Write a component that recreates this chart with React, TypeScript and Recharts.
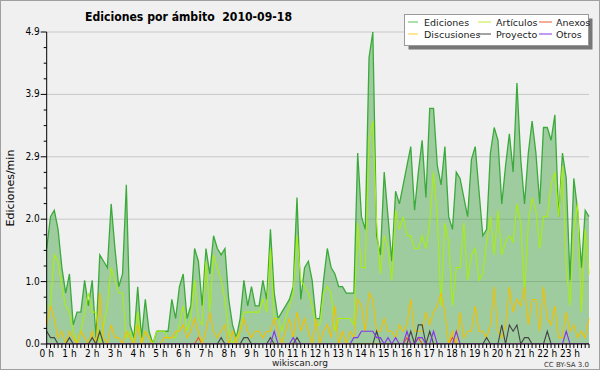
import { ComposedChart, Area, Line, XAxis, YAxis, CartesianGrid } from "recharts";

// 10-minute slots of the day, 0 = 00:00 ... 143 = 23:50
const slots = Array.from({ length: 144 }, (_, i) => i);

const ediciones = [
  1.5, 2.0, 2.1, 1.8, 1.2, 0.8, 1.1, 0.3, 0.5, 0.5, 1.0, 0.6,
  1.0, 0.1, 1.4, 1.3, 1.2, 2.2, 1.5, 0.9, 1.1, 2.5, 0.3, 0.1,
  0.9, 0.1, 0.7, 0.2, 0.0, 0.2, 0.2, 0.2, 0.2, 0.7, 0.4, 0.9,
  1.1, 0.4, 0.6, 1.5, 1.3, 0.6, 1.5, 1.1, 1.7, 1.5, 1.4, 1.5,
  0.7, 0.3, 0.1, 0.4, 1.0, 0.6, 0.9, 0.6, 0.6, 1.0, 0.7, 1.8,
  0.8, 0.4, 0.5, 0.6, 0.7, 0.9, 2.3, 0.7, 1.2, 1.3, 1.0, 0.4,
  0.4, 1.0, 1.5, 1.2, 1.1, 0.9, 0.9, 0.8, 0.8, 0.8, 3.0, 2.0,
  1.8, 4.5, 4.9, 1.7, 1.4, 2.7, 2.0, 1.3, 2.4, 2.2, 2.5, 2.8,
  3.1, 2.1, 2.7, 3.2, 2.3, 3.7, 3.7, 2.8, 2.5, 3.1, 2.0, 1.8,
  2.7, 2.6, 2.3, 2.0, 2.9, 3.1, 2.4, 1.7, 1.8, 3.0, 3.4, 3.2,
  2.2, 2.8, 3.3, 2.7, 4.1, 2.9, 2.2, 3.0, 3.5, 3.0, 2.2, 3.4,
  3.4, 3.2, 3.6, 2.0, 3.0, 2.6, 1.0, 2.6, 2.1, 1.2, 2.1, 2.0,
];

const articulos = [
  0.6, 0.6, 1.4, 1.3, 0.9, 0.6, 0.5, 0.2, 0.0, 0.2, 0.5, 0.8,
  0.5, 0.5, 0.0, 0.3, 0.6, 1.2, 1.0, 0.8, 0.8, 0.1, 0.2, 0.0,
  0.5, 0.0, 0.2, 0.1, 0.0, 0.2, 0.2, 0.2, 0.1, 0.1, 0.1, 0.3,
  0.6, 0.2, 0.4, 1.0, 0.4, 0.3, 1.3, 0.5, 1.4, 1.2, 1.0, 0.7,
  0.2, 0.0, 0.1, 0.2, 0.5, 0.5, 0.5, 0.5, 0.5, 0.7, 0.5, 1.5,
  0.4, 0.4, 0.2, 0.4, 0.6, 0.8, 1.7, 1.0, 0.9, 0.8, 0.6, 0.3,
  0.3, 0.8, 0.9, 0.8, 0.2, 0.4, 0.4, 0.4, 0.4, 0.3, 1.9, 1.2,
  1.2, 3.2, 3.5, 1.9, 1.1, 1.7, 1.5, 1.0, 2.1, 1.8, 2.0, 1.7,
  1.7, 1.5, 1.5, 1.7, 1.5, 1.9, 2.7, 2.0, 0.6, 1.9, 1.6, 0.6,
  1.2, 1.2, 1.9, 1.0, 1.4, 1.5, 1.0, 1.1, 1.6, 2.0, 1.4, 2.1,
  1.4, 1.6, 1.7, 1.6, 2.2, 1.9, 0.8, 1.9, 2.3, 2.1, 1.5, 2.0,
  2.0, 2.5, 2.7, 2.0, 2.8, 1.2, 0.6, 1.8, 2.2, 0.5, 1.8, 1.1,
];

const anexos = [
  0, 0, 0, 0, 0, 0, 0, 0, 0, 0, 0, 0,
  0, 0, 0, 0, 0, 0, 0, 0, 0, 0, 0, 0,
  0, 0, 0, 0, 0, 0, 0, 0, 0, 0, 0, 0,
  0, 0, 0, 0, 0.1, 0, 0, 0, 0, 0, 0, 0,
  0, 0, 0, 0, 0, 0, 0, 0, 0, 0, 0, 0,
  0, 0, 0, 0, 0, 0, 0, 0, 0, 0, 0, 0,
  0, 0, 0, 0, 0, 0, 0, 0, 0, 0, 0, 0,
  0, 0, 0, 0, 0, 0, 0, 0, 0, 0, 0, 0.1,
  0, 0, 0.1, 0, 0, 0, 0, 0, 0, 0, 0, 0.1,
  0, 0, 0, 0, 0, 0, 0, 0, 0, 0, 0, 0,
  0, 0, 0, 0, 0, 0, 0, 0, 0, 0, 0, 0,
  0, 0, 0, 0, 0, 0, 0, 0, 0, 0, 0, 0,
];

const discusiones = [
  0.3, 0.6, 0.4, 0.1, 0.2, 0.0, 0.2, 0.1, 0.0, 0.2, 0.1, 0.0,
  0.2, 0.0, 0.8, 0.1, 0.0, 0.3, 0.1, 0.1, 0.0, 0.2, 0.1, 0.0,
  0.3, 0.0, 0.2, 0.1, 0.0, 0.0, 0.0, 0.1, 0.1, 0.1, 0.2, 0.2,
  0.3, 0.1, 0.2, 0.4, 0.2, 0.0, 0.2, 0.5, 0.2, 0.1, 0.2, 0.3,
  0.0, 0.2, 0.0, 0.2, 0.4, 0.2, 0.1, 0.2, 0.2, 0.1, 0.2, 0.2,
  0.4, 0.2, 0.0, 0.2, 0.4, 0.1, 0.5, 0.2, 0.4, 0.2, 0.0, 0.4,
  0.0, 0.2, 0.3, 0.1, 0.6, 0.0, 0.2, 0.0, 0.2, 0.1, 0.7, 0.6,
  0.2, 0.8, 0.7, 0.2, 0.2, 0.4, 0.2, 0.2, 0.1, 0.3, 0.2, 0.3,
  0.7, 0.2, 0.2, 0.2, 0.5, 0.3, 0.5, 0.6, 0.8, 0.5, 0.0, 0.2,
  0.0, 0.5, 0.1, 0.2, 0.2, 0.6, 0.2, 0.2, 0.1, 0.3, 0.9, 0.2,
  0.1, 0.3, 0.9, 0.5, 0.7, 0.6, 0.9, 0.3, 0.7, 0.7, 0.2, 0.9,
  0.4, 0.3, 0.6, 0.1, 0.1, 0.5, 0.2, 0.3, 0.1, 0.2, 0.1, 0.4,
];

const proyecto = [
  0.2, 0.1, 0.1, 0, 0, 0, 0.1, 0, 0, 0, 0, 0,
  0.1, 0, 0.2, 0, 0, 0, 0, 0, 0, 0, 0, 0,
  0, 0, 0, 0, 0, 0, 0, 0, 0, 0, 0, 0,
  0, 0, 0, 0, 0, 0, 0, 0, 0, 0, 0.1, 0,
  0, 0, 0, 0, 0.1, 0.1, 0, 0, 0, 0, 0, 0.1,
  0, 0, 0, 0, 0, 0, 0.1, 0, 0, 0, 0, 0,
  0, 0, 0, 0, 0, 0, 0, 0, 0, 0, 0, 0,
  0, 0, 0, 0.2, 0, 0, 0, 0, 0, 0, 0, 0,
  0.2, 0, 0.3, 0.3, 0, 0.2, 0, 0, 0, 0, 0, 0,
  0, 0, 0, 0, 0, 0, 0, 0, 0.1, 0, 0, 0,
  0.3, 0, 0.3, 0.2, 0.3, 0, 0.1, 0.1, 0, 0, 0, 0,
  0.2, 0, 0, 0, 0, 0, 0, 0, 0, 0, 0, 0,
];

const otros = [
  0, 0, 0, 0, 0, 0, 0, 0, 0, 0, 0, 0,
  0, 0, 0, 0, 0, 0, 0, 0, 0, 0, 0, 0,
  0, 0, 0, 0, 0, 0, 0, 0, 0, 0, 0, 0,
  0, 0, 0, 0, 0, 0, 0, 0, 0, 0, 0, 0,
  0, 0, 0, 0, 0, 0, 0, 0, 0, 0, 0, 0,
  0.2, 0, 0, 0, 0, 0.1, 0, 0, 0, 0, 0, 0,
  0, 0, 0, 0, 0, 0, 0, 0, 0, 0.1, 0.1, 0.2,
  0.2, 0.2, 0.2, 0.1, 0.1, 0, 0.1, 0, 0.1, 0, 0, 0.2,
  0, 0, 0.1, 0.1, 0, 0, 0.2, 0, 0, 0, 0, 0,
  0.2, 0, 0, 0, 0, 0, 0, 0, 0, 0, 0, 0,
  0, 0, 0, 0, 0, 0, 0, 0, 0, 0, 0, 0,
  0, 0, 0, 0, 0, 0.2, 0, 0, 0, 0, 0, 0,
];

const yMajor = [0, 0.98, 1.96, 2.94, 3.92, 4.9];
const yMajorLabels = ["0.0", "1.0", "2.0", "2.9", "3.9", "4.9"];

const series = [
  { key: "ediciones", name: "Ediciones", color: "#3aaa3a", legend: "#77cc77" },
  { key: "articulos", name: "Artículos", color: "#aaee11", legend: "#ccee55" },
  { key: "anexos", name: "Anexos", color: "#ee5522", legend: "#ee7755" },
  { key: "discusiones", name: "Discusiones", color: "#f2c000", legend: "#ffd84d" },
  { key: "proyecto", name: "Proyecto", color: "#444444", legend: "#666666" },
  { key: "otros", name: "Otros", color: "#8833ee", legend: "#9955ee" },
];

const data = slots.map((s, i) => ({
  s,
  ediciones: ediciones[i],
  articulos: articulos[i],
  anexos: anexos[i],
  discusiones: discusiones[i],
  proyecto: proyecto[i],
  otros: otros[i],
}));

// minor ticks every quarter of a major step
const yTicks = Array.from({ length: 21 }, (_, k) => +(k * 0.245).toFixed(3));

const narrow = "'Liberation Sans Narrow', 'DejaVu Sans Condensed', sans-serif";
const sans = "'DejaVu Sans', sans-serif";

function XTick({ x, y, payload }: any) {
  const v = payload.value as number;
  const hour = v % 6 === 0;
  return (
    <g>
      <line x1={x} y1={y} x2={x} y2={y + 4} stroke="#000" />
      {hour && (
        <text x={x} y={y + 13} textAnchor="middle" fontSize={10} fontFamily={narrow} fill="#000">
          {`${v / 6} h`}
        </text>
      )}
    </g>
  );
}

function YTick({ x, y, payload }: any) {
  const v = payload.value as number;
  const idx = yMajor.findIndex((m) => Math.abs(m - v) < 0.002);
  const major = idx >= 0;
  return (
    <g>
      <line x1={x - (major ? 6 : 3)} y1={y} x2={x} y2={y} stroke="#000" />
      {major && (
        <text x={x - 7} y={y + 3} textAnchor="end" fontSize={10} fontFamily={narrow} fill="#000">
          {yMajorLabels[idx]}
        </text>
      )}
    </g>
  );
}

export default function App() {
  // legend order: Ediciones Artículos Anexos / Discusiones Proyecto Otros
  const legendRows = [
    [series[0], series[1], series[2]],
    [series[3], series[4], series[5]],
  ];
  const colX = [408, 478, 539];
  const textX = [424, 496, 556];
  const rowY = [22, 34];

  return (
    <div
      style={{
        position: "absolute",
        left: 0,
        top: 0,
        width: 600,
        height: 370,
        background: "#f0f0f0",
        boxSizing: "border-box",
        border: "1px solid #a0a0a0",
        overflow: "hidden",
      }}
    >
      <div style={{ position: "absolute", left: -1, top: -1 }}>
        <ComposedChart
          width={600}
          height={370}
          data={data}
          margin={{ top: 32, right: 11, left: 6, bottom: 0 }}
        >
          <CartesianGrid vertical={false} horizontalValues={yMajor} stroke="#c8c8c8" />
          <XAxis
            dataKey="s"
            type="number"
            domain={[0, 143]}
            ticks={slots}
            interval={0}
            height={26}
            tickSize={0}
            tickMargin={0}
            tickLine={false}
            axisLine={{ stroke: "#000" }}
            tick={<XTick />}
          />
          <YAxis
            type="number"
            domain={[0, 4.9]}
            ticks={yTicks}
            interval={0}
            width={40.7}
            tickSize={0}
            tickMargin={0}
            tickLine={false}
            axisLine={{ stroke: "#000" }}
            tick={<YTick />}
            allowDataOverflow
          />
          <Area
            type="linear"
            dataKey="ediciones"
            stroke="#3aaa3a"
            strokeWidth={1.3}
            fill="#2e9a2e"
            fillOpacity={0.42}
            isAnimationActive={false}
            dot={false}
            activeDot={false}
          />
          {series.slice(1).map((s) => (
            <Line
              key={s.key}
              type="linear"
              dataKey={s.key}
              stroke={s.color}
              strokeWidth={1.1}
              dot={false}
              activeDot={false}
              isAnimationActive={false}
            />
          ))}
        </ComposedChart>
      </div>
      <svg
        width={600}
        height={370}
        style={{ position: "absolute", left: -1, top: -1, pointerEvents: "none" }}
      >
        <text
          x={85}
          y={21}
          fontSize={13}
          fontWeight="bold"
          fontFamily={narrow}
          textLength={207}
          lengthAdjust="spacingAndGlyphs"
          fill="#000"
        >
          {"Ediciones por ámbito\u00a0\u00a02010-09-18"}
        </text>
        <text
          x={14}
          y={188}
          transform="rotate(-90 14 188)"
          textAnchor="middle"
          fontSize={11}
          fontFamily={sans}
          fill="#000"
        >
          Ediciones/min
        </text>
        <text x={300} y={366} textAnchor="middle" fontSize={9} fontFamily={sans} fill="#222">
          wikiscan.org
        </text>
        <text x={589} y={367} textAnchor="end" fontSize={7} fontFamily={sans} fill="#333">
          CC BY-SA 3.0
        </text>
        <rect x={408.5} y={18.5} width={184} height={31} fill="#777" />
        <rect x={404.5} y={14.5} width={184} height={31} fill="#fff" stroke="#999" />
        {legendRows.map((row, r) =>
          row.map((s, c) => (
            <g key={s.key}>
              <line
                x1={colX[c]}
                y1={rowY[r]}
                x2={colX[c] + (c === 0 ? 10 : 13)}
                y2={rowY[r]}
                stroke={s.legend}
                strokeWidth={1.2}
              />
              <text x={textX[c]} y={rowY[r] + 3.5} fontSize={9.5} fontFamily={sans} fill="#222">
                {s.name}
              </text>
            </g>
          ))
        )}
      </svg>
    </div>
  );
}
